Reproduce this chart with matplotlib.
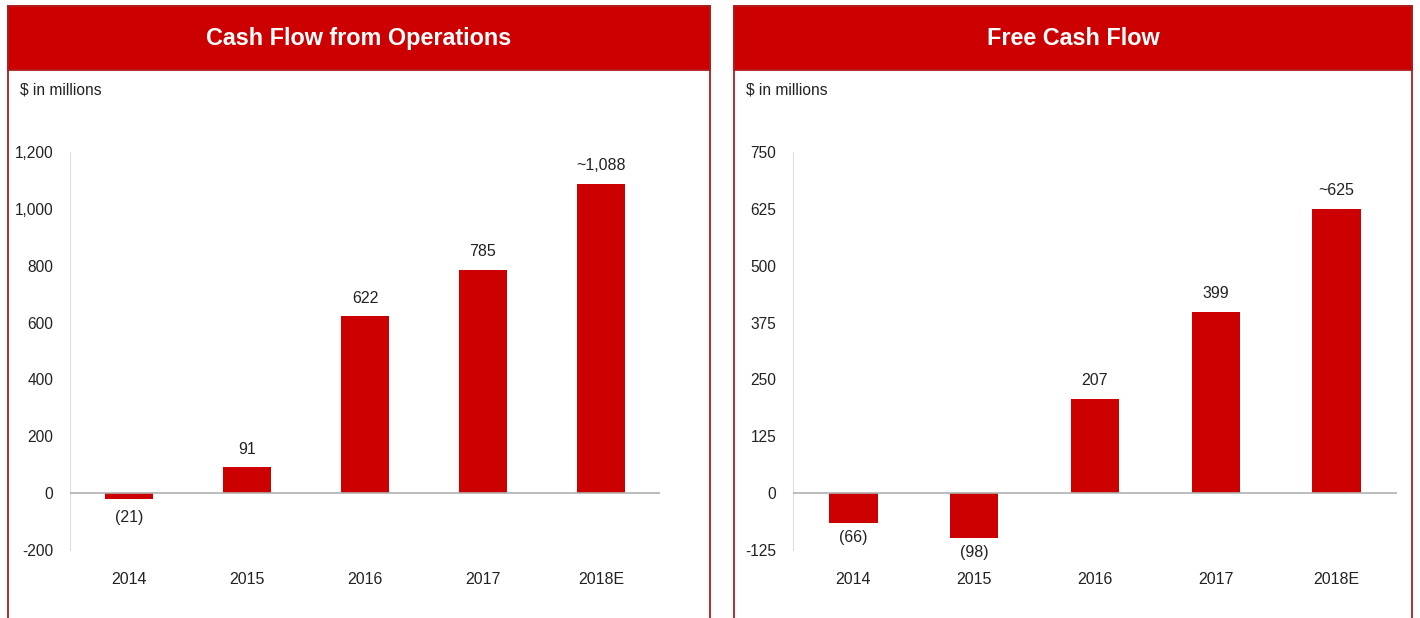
import numpy as np
import matplotlib
matplotlib.use("Agg")
import matplotlib.pyplot as plt
from matplotlib.patches import Rectangle

# data
years = ["2014", "2015", "2016", "2017", "2018E"]
cfo = [-21, 91, 622, 785, 1088]
cfo_labels = ["(21)", "91", "622", "785", "~1,088"]
fcf = [-66, -98, 207, 399, 625]
fcf_labels = ["(66)", "(98)", "207", "399", "~625"]

cfo_ticks = [-200, 0, 200, 400, 600, 800, 1000, 1200]
fcf_ticks = [-125, 0, 125, 250, 375, 500, 625, 750]

RED = "#cc0000"
W, H = 1420, 618

plt.rcParams["font.family"] = ["Liberation Sans", "DejaVu Sans"]

fig = plt.figure(figsize=(W / 100, H / 100), dpi=100)


def px(x0, y0, x1, y1):
    # pixel box (top-left origin) -> figure fraction rect
    return [x0 / W, 1 - y1 / H, (x1 - x0) / W, (y1 - y0) / H]


def panel(x0, x1, title):
    box = px(x0, 6, x1, 640)
    fig.patches.append(Rectangle(box[:2], box[2], box[3], transform=fig.transFigure,
                                 fill=False, edgecolor="#b01c1c", linewidth=1.3, zorder=0))
    hdr = px(x0, 6, x1, 70)
    fig.patches.append(Rectangle(hdr[:2], hdr[2], hdr[3], transform=fig.transFigure,
                                 facecolor=RED, edgecolor="#b01c1c", linewidth=1.3, zorder=1))
    fig.text((x0 + x1) / 2 / W, 1 - 38.5 / H, title, color="white", fontsize=16.8,
             fontweight="bold", ha="center", va="center")
    fig.text((x0 + 12) / W, 1 - 90 / H, "$ in millions", fontsize=11.2,
             color="#222222", ha="left", va="center")


def bars(rect, vals, labels, ticks, neg_off):
    ax = fig.add_axes(rect)
    x = np.arange(len(years))
    ax.bar(x, vals, width=0.4, color=RED, zorder=2)
    ax.set_xlim(-0.5, len(years) - 0.5)
    ax.set_ylim(ticks[0], ticks[-1])
    ax.set_yticks(ticks)
    ax.set_yticklabels([f"{t:,}" for t in ticks])
    ax.set_xticks(x)
    ax.set_xticklabels(years)
    ax.tick_params(axis="y", length=0, pad=12, labelsize=11.2, colors="#222222")
    ax.tick_params(axis="x", length=0, pad=16, labelsize=11.5, colors="#222222")
    for s in ["top", "right", "bottom"]:
        ax.spines[s].set_visible(False)
    ax.spines["left"].set_color("#dddddd")
    ax.axhline(0, color="#b0b0b0", linewidth=1.2, zorder=3)
    for xi, v, lab in zip(x, vals, labels):
        dy = 13 if v >= 0 else -neg_off
        ax.annotate(lab, (xi, v), xytext=(0, dy), textcoords="offset points",
                    ha="center", va="center", fontsize=11.5, color="#222222")
    ax.patch.set_alpha(0)
    return ax


panel(8, 710, "Cash Flow from Operations")
panel(734, 1412, "Free Cash Flow")

bars(px(70, 152, 660, 550), cfo, cfo_labels, cfo_ticks, 13.5)
bars(px(793, 152, 1397, 550), fcf, fcf_labels, fcf_ticks, 10.5)

fig.savefig("out.png", dpi=100)
